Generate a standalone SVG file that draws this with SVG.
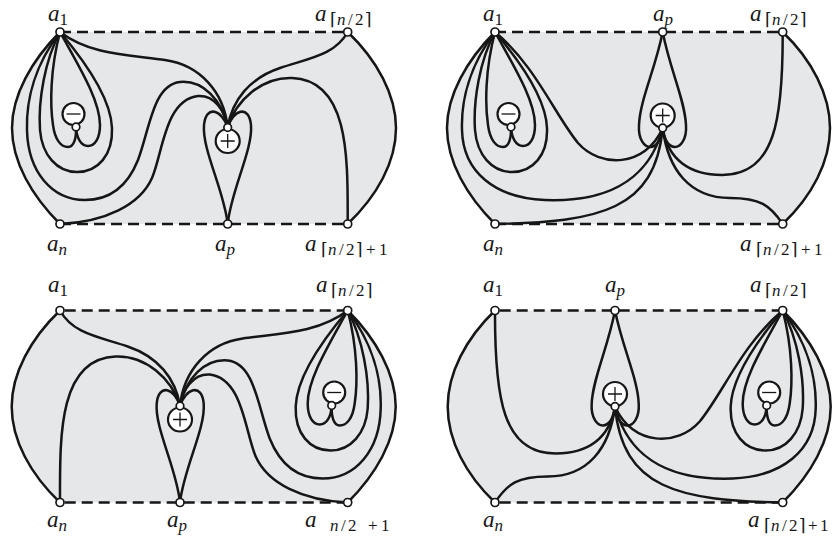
<svg xmlns="http://www.w3.org/2000/svg" width="835" height="541" viewBox="0 0 835 541">
<style>
.bg{fill:#e6e7e9;stroke:none}
.e{fill:none;stroke:#161616;stroke-width:2.5;stroke-linecap:round;stroke-linejoin:round}
.d{fill:none;stroke:#161616;stroke-width:2.5;stroke-dasharray:11 6}
.v{fill:#fff;stroke:#161616;stroke-width:1.7}
.c{fill:#fff;stroke:#161616;stroke-width:2.2}
.sg{stroke:#161616;stroke-width:1.3;fill:none}
text{font-family:"Liberation Serif","DejaVu Serif",serif;font-style:italic;font-size:23px;fill:#161616}
.sb{font-size:17px}
.up{font-style:normal}
</style>
<defs>
<path id="fill1" d="M60,32 L347.7,32 C377,60 396,95 396,128 C396,162 377,196 347.7,224 L60,224 C32,196 12,162 12,128 C12,95 32,60 60,32 Z"/>
<path id="fill2" d="M495,32 L782.7,32 C812,60 830,95 830,128 C830,162 812,196 782.7,224 L495,224 C467,196 447,162 447,128 C447,95 467,60 495,32 Z"/>
</defs>

<!-- Panel 1 -->
<g id="panel1">
<use href="#fill1" class="bg"/>
<g id="p1-connectors">
<path class="d" d="M60,32 H347.7"/>
<path class="d" d="M60,224 H347.7"/>
<path class="e" d="M60,32 C32,60 12,95 12,128 C12,162 32,196 60,224"/>
<path class="e" d="M347.7,32 C377,60 396,95 396,128 C396,162 377,196 347.7,224"/>
<path class="e" d="M60,32 C35,65 26,100 27,130 C28,172 52,200 85,200 C112,200 128,185 138,160 C150,128 153,85 180,82 C203,80 222,100 227.7,127.5"/>
<path class="e" d="M60,32 C45,60 38,100 40,130 C42,155 57,172 77,172 C98,172 113,155 112,128 C111,100 88,65 60,32"/>
<path class="e" d="M60,32 C50,70 50,105 53,125 C55,140 61,147 68,147 C74,147 76.5,138 76,127"/>
<path class="e" d="M60,32 C78,65 100,100 100,125 C100,138 95,146 88,146 C81,146 76.5,138 76,127"/>
<path class="e" d="M60,32 C90,55 130,55 165,60 C200,65 224,92 227.7,127.5"/>
<path class="e" d="M60,224 C105,222 140,205 152,178 C163,152 165,100 198,96 C214,95 225,110 227.7,127.5"/>
<path class="e" d="M347.7,32 C335,55 310,58 280,68 C250,78 232,100 227.7,127.5"/>
<path class="e" d="M347.7,224 C347.7,160 350,80 292,78 C262,77 236,100 227.7,127.5"/>
<path class="e" d="M227.7,127.5 C222,110 206,104 204,125 C202,150 224,190 227.7,224"/>
<path class="e" d="M227.7,127.5 C233,110 249,104 251,125 C253,150 231,190 227.7,224"/>
</g>
<g id="p1-minus"><circle class="c" cx="73.5" cy="114" r="11"/><path class="sg" d="M66.5,114 H80.5"/></g>
<g id="p1-plus"><circle class="c" cx="227.7" cy="141" r="12"/><path class="sg" d="M220.7,141 H234.7 M227.7,134 V148"/></g>
<g id="p1-mv"><circle class="v" cx="76" cy="127" r="3.8"/></g>
<g id="p1-hub"><circle class="v" cx="227.7" cy="127.5" r="3.8"/></g>
<g id="p1-a1"><circle class="v" cx="60" cy="32" r="4"/><text x="48" y="21">a<tspan class="sb up" dy="3.5">1</tspan></text></g>
<g id="p1-ah"><circle class="v" cx="347.7" cy="32" r="4"/><text y="21"><tspan x="315">a</tspan><tspan class="sb up" x="330" dy="3.5">⌈</tspan><tspan class="sb" x="337">n</tspan><tspan class="sb up" x="348">/</tspan><tspan class="sb up" x="355">2</tspan><tspan class="sb up" x="365">⌉</tspan></text></g>
<g id="p1-an"><circle class="v" cx="60" cy="224" r="4"/><text x="47" y="250.5">a<tspan class="sb" dy="4">n</tspan></text></g>
<g id="p1-ap"><circle class="v" cx="227.7" cy="224" r="4"/><text x="215" y="250.5">a<tspan class="sb" dy="4">p</tspan></text></g>
<g id="p1-ah1"><circle class="v" cx="347.7" cy="224" r="4"/><text y="250.5"><tspan x="305">a</tspan><tspan class="sb up" x="321" dy="4">⌈</tspan><tspan class="sb" x="328">n</tspan><tspan class="sb up" x="339">/</tspan><tspan class="sb up" x="346">2</tspan><tspan class="sb up" x="356">⌉</tspan><tspan class="sb up" x="366">+</tspan><tspan class="sb up" x="379">1</tspan></text></g>
</g>

<!-- Panel 2 -->
<g id="panel2">
<use href="#fill2" class="bg"/>
<g id="p2-connectors">
<path class="d" d="M495,32 H782.7"/>
<path class="d" d="M495,224 H782.7"/>
<path class="e" d="M495,32 C467,60 447,95 447,128 C447,162 467,196 495,224"/>
<path class="e" d="M782.7,32 C812,60 830,95 830,128 C830,162 812,196 782.7,224"/>
<path class="e" d="M495,32 C470,65 461,100 462,130 C463,172 495,198 545,200 C600,202 648,185 662.7,128"/>
<path class="e" d="M495,32 C480,60 473,100 475,130 C477,155 492,172 512,172 C533,172 548,155 547,128 C546,100 523,65 495,32"/>
<path class="e" d="M495,32 C485,70 485,105 488,125 C490,140 496,147 503,147 C509,147 511.5,138 511,127"/>
<path class="e" d="M495,32 C513,65 535,100 535,125 C535,138 530,146 523,146 C516,146 511.5,138 511,127"/>
<path class="e" d="M495,32 C535,65 555,115 578,143 C600,168 645,168 662.7,128"/>
<path class="e" d="M495,224 C600,222 655,210 662.7,128"/>
<path class="e" d="M782.7,32 C783,120 775,175 722,175 C690,175 668,160 662.7,128"/>
<path class="e" d="M782.7,224 C770,205 760,198 730,198 C690,198 668,170 662.7,128"/>
<path class="e" d="M662.7,32 C655,70 640,100 639,125 C638,140 645,147 650,147 C657,147 662,138 662.7,128"/>
<path class="e" d="M662.7,32 C670,70 685,100 686,125 C687,140 680,147 675,147 C668,147 663.4,138 662.7,128"/>
</g>
<g id="p2-minus"><circle class="c" cx="508.5" cy="114" r="11"/><path class="sg" d="M501.5,114 H515.5"/></g>
<g id="p2-plus"><circle class="c" cx="662.7" cy="115.5" r="12"/><path class="sg" d="M655.7,115.5 H669.7 M662.7,108.5 V122.5"/></g>
<g id="p2-mv"><circle class="v" cx="511" cy="127" r="3.8"/></g>
<g id="p2-hub"><circle class="v" cx="662.7" cy="128" r="3.8"/></g>
<g id="p2-a1"><circle class="v" cx="495" cy="32" r="4"/><text x="483" y="21">a<tspan class="sb up" dy="3.5">1</tspan></text></g>
<g id="p2-ap"><circle class="v" cx="662.7" cy="32" r="4"/><text x="653" y="21">a<tspan class="sb" dy="3.5">p</tspan></text></g>
<g id="p2-ah"><circle class="v" cx="782.7" cy="32" r="4"/><text y="21"><tspan x="750">a</tspan><tspan class="sb up" x="765" dy="3.5">⌈</tspan><tspan class="sb" x="772">n</tspan><tspan class="sb up" x="783">/</tspan><tspan class="sb up" x="790">2</tspan><tspan class="sb up" x="800">⌉</tspan></text></g>
<g id="p2-an"><circle class="v" cx="495" cy="224" r="4"/><text x="483" y="250.5">a<tspan class="sb" dy="4">n</tspan></text></g>
<g id="p2-ah1"><circle class="v" cx="782.7" cy="224" r="4"/><text y="250.5"><tspan x="740">a</tspan><tspan class="sb up" x="756" dy="4">⌈</tspan><tspan class="sb" x="763">n</tspan><tspan class="sb up" x="774">/</tspan><tspan class="sb up" x="781">2</tspan><tspan class="sb up" x="791">⌉</tspan><tspan class="sb up" x="801">+</tspan><tspan class="sb up" x="814">1</tspan></text></g>
</g>

<!-- Panel 3 (mirror of panel 1) -->
<g id="panel3">
<use href="#fill1" class="bg" transform="translate(407.7,278.5) scale(-1,1)"/>
<g id="p3-connectors" transform="translate(407.7,278.5) scale(-1,1)">
<path class="d" d="M60,32 H347.7"/>
<path class="d" d="M60,224 H347.7"/>
<path class="e" d="M60,32 C32,60 12,95 12,128 C12,162 32,196 60,224"/>
<path class="e" d="M347.7,32 C377,60 396,95 396,128 C396,162 377,196 347.7,224"/>
<path class="e" d="M60,32 C35,65 26,100 27,130 C28,172 52,200 85,200 C112,200 128,185 138,160 C150,128 153,85 180,82 C203,80 222,100 227.7,127.5"/>
<path class="e" d="M60,32 C45,60 38,100 40,130 C42,155 57,172 77,172 C98,172 113,155 112,128 C111,100 88,65 60,32"/>
<path class="e" d="M60,32 C50,70 50,105 53,125 C55,140 61,147 68,147 C74,147 76.5,138 76,127"/>
<path class="e" d="M60,32 C78,65 100,100 100,125 C100,138 95,146 88,146 C81,146 76.5,138 76,127"/>
<path class="e" d="M60,32 C90,55 130,55 165,60 C200,65 224,92 227.7,127.5"/>
<path class="e" d="M60,224 C105,222 140,205 152,178 C163,152 165,100 198,96 C214,95 225,110 227.7,127.5"/>
<path class="e" d="M347.7,32 C335,55 310,58 280,68 C250,78 232,100 227.7,127.5"/>
<path class="e" d="M347.7,224 C347.7,160 350,80 292,78 C262,77 236,100 227.7,127.5"/>
<path class="e" d="M227.7,127.5 C222,110 206,104 204,125 C202,150 224,190 227.7,224"/>
<path class="e" d="M227.7,127.5 C233,110 249,104 251,125 C253,150 231,190 227.7,224"/>
</g>
<g id="p3-minus"><circle class="c" cx="334.2" cy="392.5" r="11"/><path class="sg" d="M327.2,392.5 H341.2"/></g>
<g id="p3-plus"><circle class="c" cx="180" cy="419.5" r="12"/><path class="sg" d="M173,419.5 H187 M180,412.5 V426.5"/></g>
<g id="p3-mv"><circle class="v" cx="331.7" cy="405.5" r="3.8"/></g>
<g id="p3-hub"><circle class="v" cx="180" cy="406" r="3.8"/></g>
<g id="p3-a1"><circle class="v" cx="60" cy="310.5" r="4"/><text x="48" y="292">a<tspan class="sb up" dy="3.5">1</tspan></text></g>
<g id="p3-ah"><circle class="v" cx="347.7" cy="310.5" r="4"/><text y="292"><tspan x="316">a</tspan><tspan class="sb up" x="331" dy="3.5">⌈</tspan><tspan class="sb" x="338">n</tspan><tspan class="sb up" x="349">/</tspan><tspan class="sb up" x="356">2</tspan><tspan class="sb up" x="366">⌉</tspan></text></g>
<g id="p3-an"><circle class="v" cx="60" cy="502.5" r="4"/><text x="47" y="527">a<tspan class="sb" dy="4">n</tspan></text></g>
<g id="p3-ap"><circle class="v" cx="180" cy="502.5" r="4"/><text x="167" y="527">a<tspan class="sb" dy="4">p</tspan></text></g>
<g id="p3-ah1"><circle class="v" cx="347.7" cy="502.5" r="4"/><text y="527"><tspan x="305">a</tspan><tspan class="sb" x="330" dy="4">n</tspan><tspan class="sb up" x="341">/</tspan><tspan class="sb up" x="348">2</tspan><tspan class="sb up" x="368">+</tspan><tspan class="sb up" x="381">1</tspan></text></g>
</g>

<!-- Panel 4 (mirror of panel 2) -->
<g id="panel4">
<use href="#fill2" class="bg" transform="translate(1277.7,278.5) scale(-1,1)"/>
<g id="p4-connectors" transform="translate(1277.7,278.5) scale(-1,1)">
<path class="d" d="M495,32 H782.7"/>
<path class="d" d="M495,224 H782.7"/>
<path class="e" d="M495,32 C467,60 447,95 447,128 C447,162 467,196 495,224"/>
<path class="e" d="M782.7,32 C812,60 830,95 830,128 C830,162 812,196 782.7,224"/>
<path class="e" d="M495,32 C470,65 461,100 462,130 C463,172 495,198 545,200 C600,202 648,185 662.7,128"/>
<path class="e" d="M495,32 C480,60 473,100 475,130 C477,155 492,172 512,172 C533,172 548,155 547,128 C546,100 523,65 495,32"/>
<path class="e" d="M495,32 C485,70 485,105 488,125 C490,140 496,147 503,147 C509,147 511.5,138 511,127"/>
<path class="e" d="M495,32 C513,65 535,100 535,125 C535,138 530,146 523,146 C516,146 511.5,138 511,127"/>
<path class="e" d="M495,32 C535,65 555,115 578,143 C600,168 645,168 662.7,128"/>
<path class="e" d="M495,224 C600,222 655,210 662.7,128"/>
<path class="e" d="M782.7,32 C783,120 775,175 722,175 C690,175 668,160 662.7,128"/>
<path class="e" d="M782.7,224 C770,205 760,198 730,198 C690,198 668,170 662.7,128"/>
<path class="e" d="M662.7,32 C655,70 640,100 639,125 C638,140 645,147 650,147 C657,147 662,138 662.7,128"/>
<path class="e" d="M662.7,32 C670,70 685,100 686,125 C687,140 680,147 675,147 C668,147 663.4,138 662.7,128"/>
</g>
<g id="p4-minus"><circle class="c" cx="769.2" cy="392.5" r="11"/><path class="sg" d="M762.2,392.5 H776.2"/></g>
<g id="p4-plus"><circle class="c" cx="615" cy="394" r="12"/><path class="sg" d="M608,394 H622 M615,387 V401"/></g>
<g id="p4-mv"><circle class="v" cx="766.7" cy="405.5" r="3.8"/></g>
<g id="p4-hub"><circle class="v" cx="615" cy="406.5" r="3.8"/></g>
<g id="p4-a1"><circle class="v" cx="495" cy="310.5" r="4"/><text x="483" y="292">a<tspan class="sb up" dy="3.5">1</tspan></text></g>
<g id="p4-ap"><circle class="v" cx="615" cy="310.5" r="4"/><text x="605" y="292">a<tspan class="sb" dy="3.5">p</tspan></text></g>
<g id="p4-ah"><circle class="v" cx="782.7" cy="310.5" r="4"/><text y="292"><tspan x="750">a</tspan><tspan class="sb up" x="765" dy="3.5">⌈</tspan><tspan class="sb" x="772">n</tspan><tspan class="sb up" x="783">/</tspan><tspan class="sb up" x="790">2</tspan><tspan class="sb up" x="800">⌉</tspan></text></g>
<g id="p4-an"><circle class="v" cx="495" cy="502.5" r="4"/><text x="483" y="527">a<tspan class="sb" dy="4">n</tspan></text></g>
<g id="p4-ah1"><circle class="v" cx="782.7" cy="502.5" r="4"/><text y="527"><tspan x="748">a</tspan><tspan class="sb up" x="764" dy="4">⌈</tspan><tspan class="sb" x="771">n</tspan><tspan class="sb up" x="782">/</tspan><tspan class="sb up" x="789">2</tspan><tspan class="sb up" x="799">⌉</tspan><tspan class="sb up" x="808">+</tspan><tspan class="sb up" x="820">1</tspan></text></g>
</g>
</svg>
